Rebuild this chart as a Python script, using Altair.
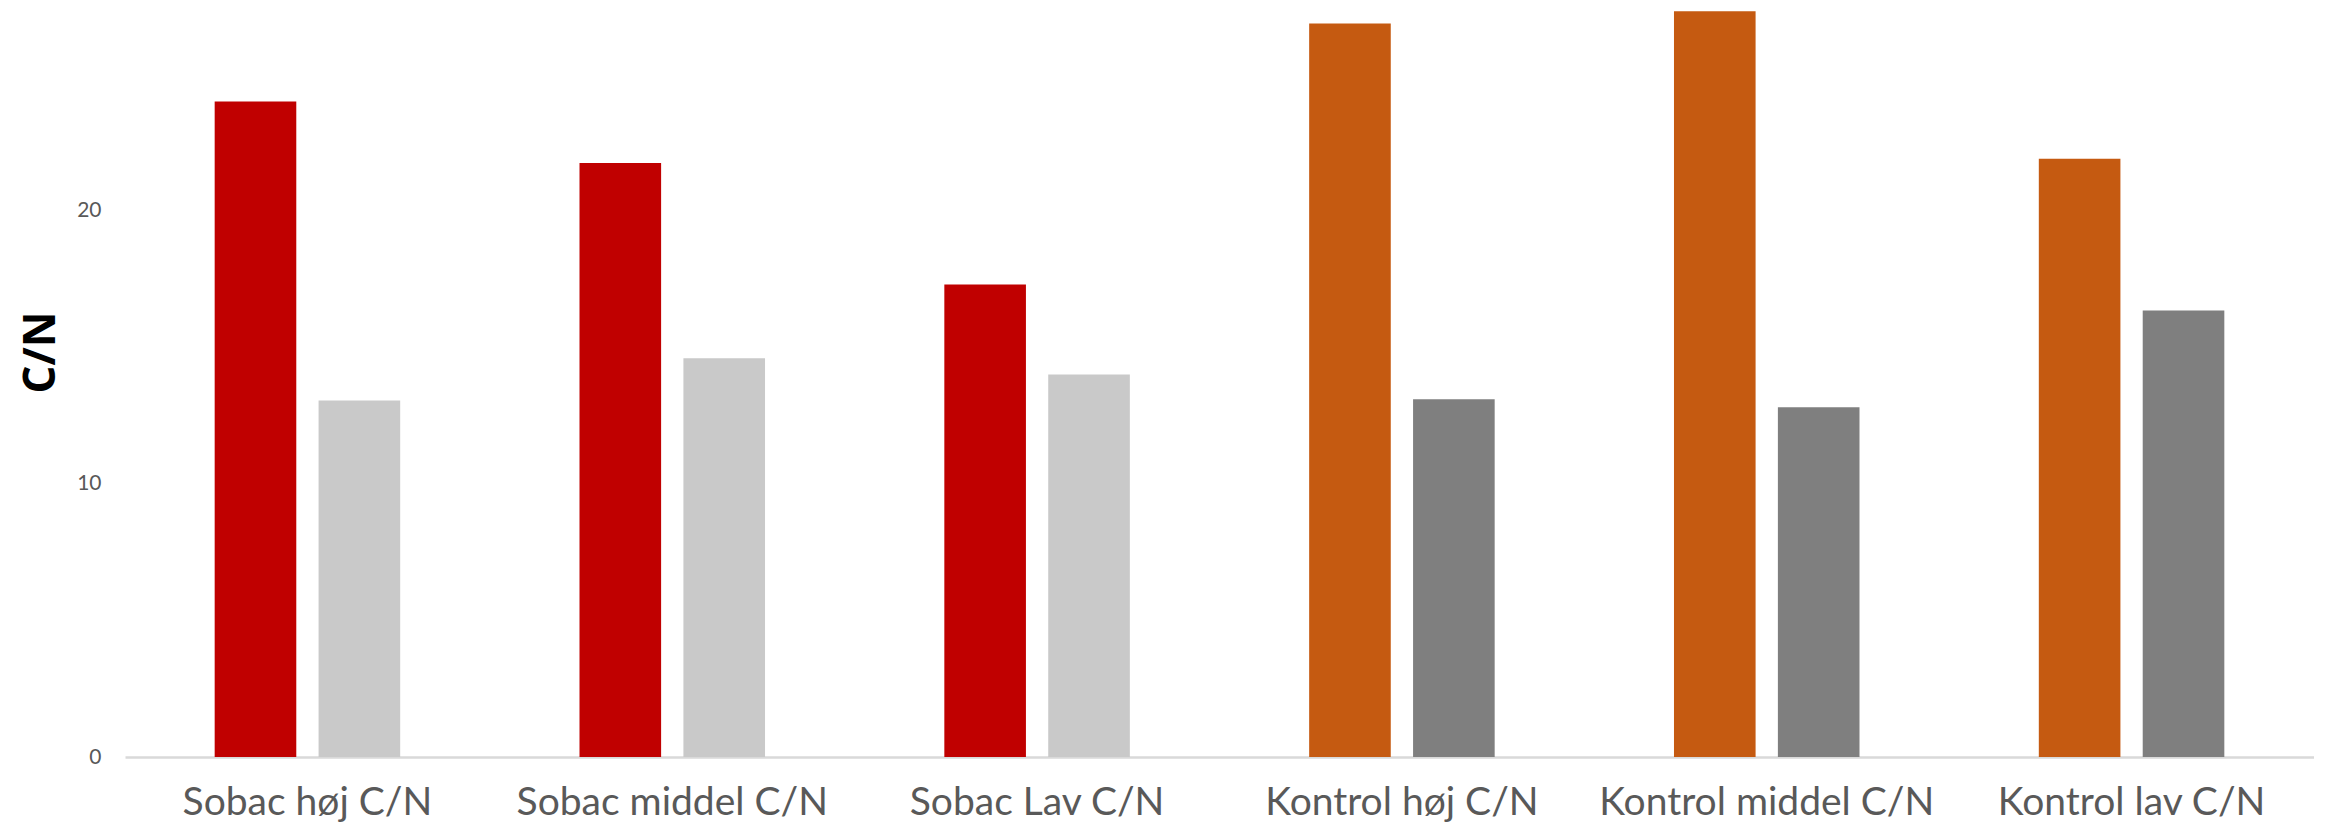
import altair as alt
import pandas as pd

categories = ["Sobac høj C/N", "Sobac middel C/N", "Sobac Lav C/N",
              "Kontrol høj C/N", "Kontrol middel C/N", "Kontrol lav C/N"]
groups = ["Sobac", "Sobac", "Sobac", "Kontrol", "Kontrol", "Kontrol"]
series1 = [24.0, 21.75, 17.3, 26.85, 27.3, 21.9]
series2 = [13.05, 14.6, 14.0, 13.1, 12.8, 16.35]
series_names = ["Serie 1", "Serie 2"]

color_keys = ["Sobac Serie 1", "Sobac Serie 2", "Kontrol Serie 1", "Kontrol Serie 2"]
color_vals = ["#C00000", "#C9C9C9", "#C55A11", "#7F7F7F"]

rows = []
for c, g, a, b in zip(categories, groups, series1, series2):
    rows.append({"kategori": c, "serie": series_names[0], "cn": a, "farve": f"{g} {series_names[0]}"})
    rows.append({"kategori": c, "serie": series_names[1], "cn": b, "farve": f"{g} {series_names[1]}"})
df = pd.DataFrame(rows)

chart = alt.Chart(df).mark_bar().encode(
    x=alt.X("kategori:N", sort=categories,
            scale=alt.Scale(paddingInner=0.4915, paddingOuter=0.2458),
            axis=alt.Axis(title=None, labelAngle=0, labelFont="Lato", labelFontSize=39,
                          labelColor="#595959", labelPadding=26, labelLimit=0, ticks=False,
                          domainColor="#D9D9D9", domainWidth=2.5)),
    xOffset=alt.XOffset("serie:N", sort=series_names,
                        scale=alt.Scale(paddingInner=0.2146, paddingOuter=0)),
    y=alt.Y("cn:Q", scale=alt.Scale(domain=[0, 27.42], nice=False),
            axis=alt.Axis(values=[0, 10, 20], title="C/N", titleFont="Open Sans",
                          titleFontSize=44, titleFontWeight="bold", titleColor="#000000",
                          titleAngle=-90, titleBaseline="middle", titleAlign="center",
                          titleX=-84, titleY=344,
                          labelFont="Lato", labelFontSize=21, labelColor="#595959",
                          labelPadding=24, ticks=False, domain=False, grid=False)),
    color=alt.Color("farve:N", scale=alt.Scale(domain=color_keys, range=color_vals), legend=None),
).properties(
    width=2189, height=749,
    padding={"left": 117, "top": 0, "right": 0, "bottom": 68},
    autosize=alt.AutoSizeParams(type="none"),
).configure_view(stroke=None)

chart.save("out.html", embed_options={"renderer": "svg", "actions": False})
